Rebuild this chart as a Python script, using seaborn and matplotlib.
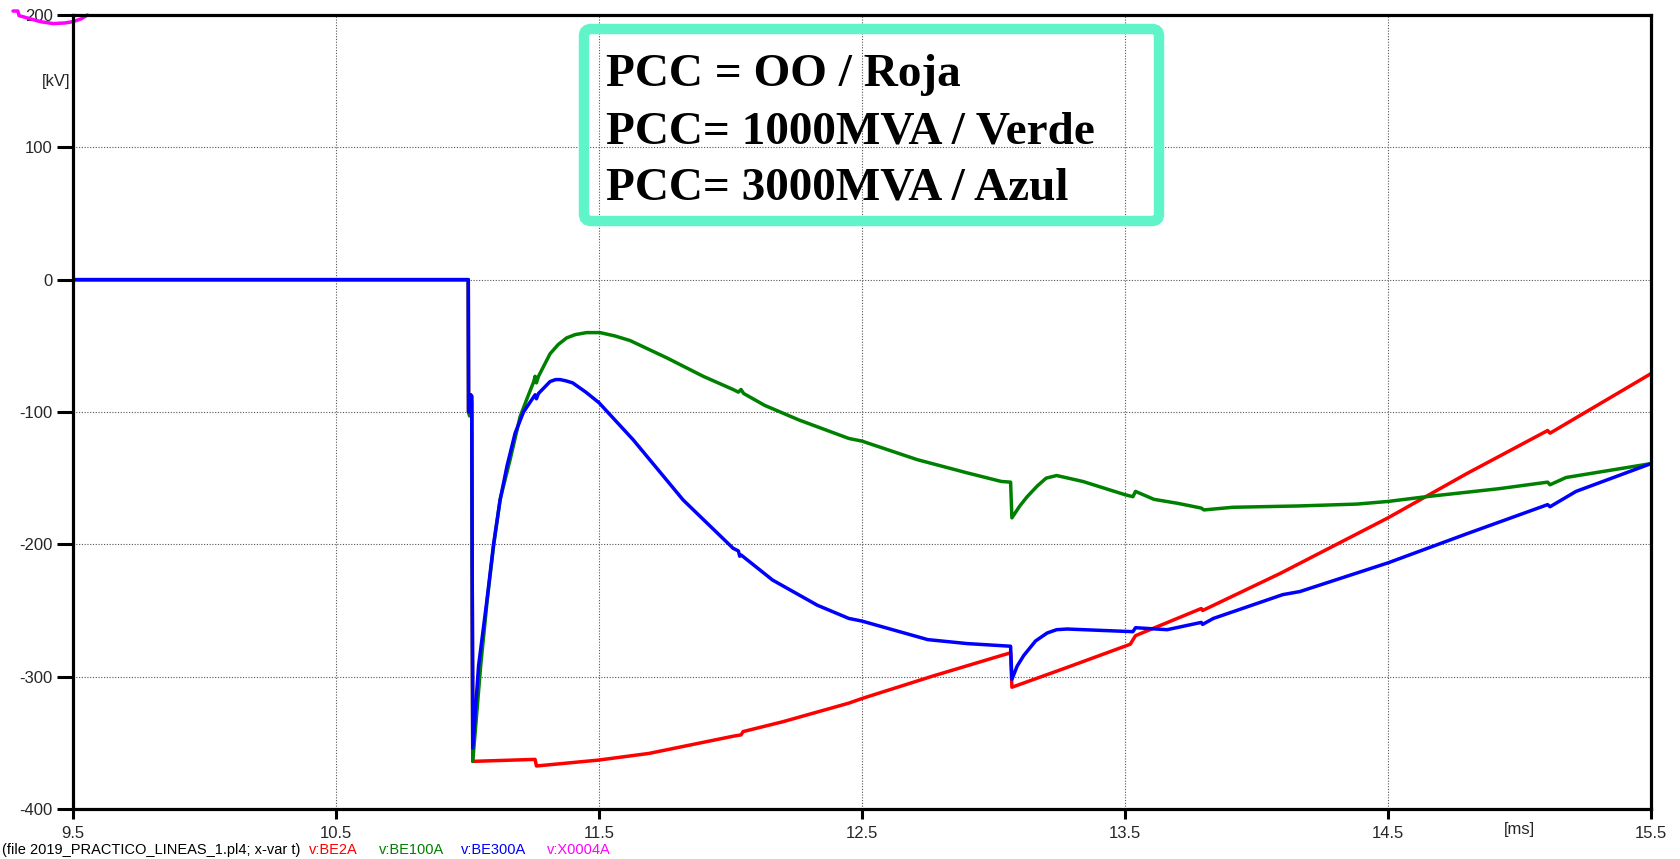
import pandas as pd
import seaborn as sns
import matplotlib.pyplot as plt
from matplotlib.patches import FancyBboxPatch
from matplotlib.transforms import IdentityTransform

# Data (time in ms, voltage in kV)
t_red = [9.5, 11.003, 11.004, 11.008, 11.012, 11.016, 11.02, 11.257, 11.262, 11.5,
         11.69, 12.01, 12.04, 12.048, 12.2, 12.45, 12.5, 12.77, 13.03, 13.065,
         13.07, 13.28, 13.52, 13.54, 13.79, 13.795, 14.09, 14.5, 14.8, 15.107,
         15.116, 15.5]
v_red = [0, 0, -100, -100, -87, -88, -364, -362.5, -367.5, -363,
         -358, -345, -344, -341.5, -334, -320, -316.5, -299.5, -284, -282,
         -308, -293, -275.5, -269, -248.5, -250, -222, -180, -146.5, -114,
         -116, -71]

t_green = [9.5, 11.003, 11.004, 11.008, 11.012, 11.016, 11.02, 11.05, 11.075, 11.1,
           11.124, 11.162, 11.2, 11.23, 11.252, 11.257, 11.262, 11.27, 11.314, 11.345,
           11.377, 11.41, 11.453, 11.504, 11.56, 11.618, 11.757, 11.896, 12.01, 12.03,
           12.04, 12.05, 12.13, 12.26, 12.45, 12.5, 12.71, 12.9, 13.03, 13.065,
           13.07, 13.1, 13.128, 13.166, 13.2, 13.24, 13.34, 13.5, 13.53, 13.54,
           13.61, 13.7, 13.79, 13.8, 13.91, 14.16, 14.38, 14.5, 14.645, 14.92,
           15.107, 15.116, 15.177, 15.5]
v_green = [0, 0, -100, -103, -90, -92, -364, -292, -242, -200,
           -166, -136, -103.5, -88, -77, -73, -78, -73, -56, -49,
           -44, -41.5, -40, -40, -42.5, -46, -59, -73, -83, -85,
           -83, -86, -95, -106, -120, -122, -136, -146, -152.5, -153,
           -180, -171, -164, -156, -150, -148, -152.5, -162.5, -164, -160,
           -166, -169, -172.6, -174, -172, -171, -169.6, -167.6, -164, -158,
           -153, -155, -149.5, -139]

t_blue = [9.5, 11.003, 11.004, 11.008, 11.012, 11.016, 11.02, 11.042, 11.074, 11.099,
          11.124, 11.15, 11.181, 11.213, 11.24, 11.257, 11.262, 11.27, 11.314, 11.335,
          11.352, 11.375, 11.4, 11.45, 11.5, 11.63, 11.82, 12.01, 12.03, 12.035,
          12.04, 12.16, 12.33, 12.45, 12.5, 12.75, 12.9, 13.065, 13.07, 13.09,
          13.115, 13.16, 13.204, 13.24, 13.28, 13.53, 13.54, 13.66, 13.79, 13.795,
          13.836, 14.1, 14.165, 14.5, 14.8, 15.107, 15.116, 15.215, 15.5]
v_blue = [0, 0, -100, -100, -87, -88, -354, -292, -242, -200,
          -166.5, -141, -116, -100, -92, -87, -90, -86, -77, -75.5,
          -75.5, -76.5, -78, -85, -93, -121, -166.5, -203, -205, -209,
          -208, -227, -246, -256, -258, -272, -275, -277, -302, -292,
          -284, -273, -267, -264.5, -264, -266, -263, -264.5, -259, -260.5,
          -256, -238, -235.7, -214, -192, -170, -171.6, -160, -139]

t_mag = [9.272, 9.29, 9.295, 9.31, 9.375, 9.425, 9.47, 9.5, 9.53, 9.555]
v_mag = [203, 203, 199.5, 198.7, 195, 193.5, 194, 195, 197, 200]

x_ticks = [9.5, 10.5, 11.5, 12.5, 13.5, 14.5, 15.5]
y_ticks = [-400, -300, -200, -100, 0, 100, 200]

series = ["v:BE2A", "v:BE100A", "v:BE300A", "v:X0004A"]
colors = ["#ff0000", "#008000", "#0000ff", "#ff00ff"]

box_lines = ["PCC = OO / Roja", "PCC= 1000MVA / Verde", "PCC= 3000MVA / Azul"]

sns.set_theme(style="white", rc={"axes.unicode_minus": False})
plt.rcParams["font.family"] = ["Liberation Sans", "DejaVu Sans"]

fig = plt.figure(figsize=(16.81, 8.59), dpi=100)
ax = fig.add_axes([73 / 1681, 50 / 859, 1578 / 1681, 794 / 859])

for name, color, t, v in zip(series[:3], colors[:3],
                             [t_red, t_green, t_blue], [v_red, v_green, v_blue]):
    df = pd.DataFrame({"t": t, "v": v})
    sns.lineplot(data=df, x="t", y="v", sort=False, estimator=None, color=color,
                 lw=2.5, ax=ax, zorder=3)

# magenta trace peeks in at the top-left corner, outside the frame
df_mag = pd.DataFrame({"t": t_mag, "v": v_mag})
sns.lineplot(data=df_mag, x="t", y="v", sort=False, estimator=None, color=colors[3],
             lw=2.5, ax=ax, zorder=5, clip_on=False)

ax.set_xlim(9.5, 15.5)
ax.set_ylim(-400, 200)
ax.set_xticks(x_ticks)
ax.set_xticklabels([str(x) for x in x_ticks])
ax.set_yticks(y_ticks)
ax.set_yticklabels([str(y) for y in y_ticks])
ax.set_xlabel("")
ax.set_ylabel("")
ax.grid(True, color="#555555", linestyle=(0, (1, 1.5)), lw=0.8, zorder=0)
ax.set_axisbelow(True)
for s in ax.spines.values():
    s.set_linewidth(2.3)
    s.set_color("black")
    s.set_zorder(6)
ax.tick_params(axis="x", direction="out", length=7.5, width=2.2, color="black",
               labelsize=12, pad=5, bottom=True)
ax.tick_params(axis="y", direction="out", length=11.5, width=2.2, color="black",
               labelsize=12, pad=3, left=True)

ax.annotate("[ms]", xy=(15.0, 0), xycoords=("data", "axes fraction"),
            xytext=(0, -15), textcoords="offset points", ha="center", va="center",
            fontsize=12)
ax.annotate("[kV]", xy=(0, 150), xycoords=("axes fraction", "data"),
            xytext=(-2, 0), textcoords="offset points", ha="right", va="center",
            fontsize=12)

# bottom caption with coloured variable names
fig.text(2 / 1681, 9 / 859, "(file 2019_PRACTICO_LINEAS_1.pl4; x-var t)",
         fontsize=10.5, va="center", color="black")
for name, color, xp in zip(series, colors, [309, 379, 461, 547]):
    fig.text(xp / 1681, 9 / 859, name, fontsize=10.5, va="center", color=color)

# annotation box
box = FancyBboxPatch((584, 638), 575, 192,
                     boxstyle="round,pad=0,rounding_size=7",
                     transform=IdentityTransform(), facecolor="none",
                     edgecolor="#5ff5c9", lw=7.5, zorder=10)
fig.patches.append(box)
for line, yb in zip(box_lines, [773, 716, 660]):
    fig.text(606 / 1681, yb / 859, line, fontsize=34, fontweight="bold",
             family="Liberation Serif", va="baseline", color="black")

fig.savefig("out.png", dpi=100)
